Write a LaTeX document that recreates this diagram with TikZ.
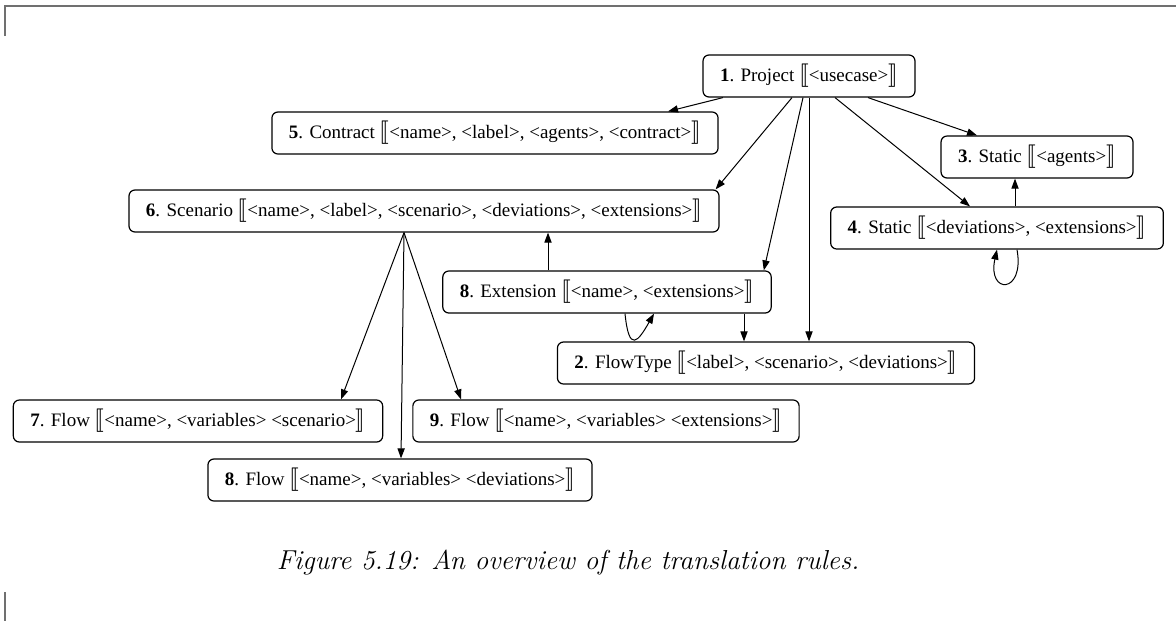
\documentclass[tikz,border=0pt]{standalone}
\usepackage{fontspec}
\newfontfamily\dotfont{Liberation Serif}
\usepackage{graphicx}
\usepackage{stmaryrd}
\usepackage{xcolor}
\definecolor{pagegray}{HTML}{707070}
\usepackage{tikz}
\usetikzlibrary{arrows.meta,calc}

\newcommand{\sembr}[1]{\scalebox{1.3}{$\llbracket$}#1\scalebox{1.3}{$\rrbracket$}}

\begin{document}
\begin{tikzpicture}[
  x=0.5pt, y=-0.5pt, %pixel grid
  rulebox/.style={draw, rounded corners=3pt, line width=0.6pt,
    inner xsep=8.5pt, inner ysep=0pt, minimum height=21pt,
    font=\dotfont\fontsize{9.5}{11}\selectfont},
  link/.style={-{Triangle[length=5pt,width=3.6pt]}, line width=0.5pt},
  pageedge/.style={pagegray, line width=0.8pt}
  ]
  \useasboundingbox (0,0) rectangle (1176,621);

  % page edges
  \draw[pageedge] (5,36) -- (5,6) -- (1176,6);
  \draw[pageedge] (5,592) -- (5,621);

  % rules
  \node[rulebox] (n1) at (809,76) {\textbf{1}. Project \sembr{<usecase>}};
  \node[rulebox] (n5) at (495,133) {\textbf{5}. Contract \sembr{<name>, <label>, <agents>, <contract>}};
  \node[rulebox] (n3) at (1037,157) {\textbf{3}. Static \sembr{<agents>}};
  \node[rulebox] (n4) at (997,228) {\textbf{4}. Static \sembr{<deviations>, <extensions>}};
  \node[rulebox] (n6) at (424,211) {\textbf{6}. Scenario \sembr{<name>, <label>, <scenario>, <deviations>, <extensions>}};
  \node[rulebox] (n8e) at (607,292) {\textbf{8}. Extension \sembr{<name>, <extensions>}};
  \node[rulebox] (n2) at (766,363) {\textbf{2}. FlowType \sembr{<label>, <scenario>, <deviations>}};
  \node[rulebox] (n7) at (198,421) {\textbf{7}. Flow \sembr{<name>, <variables> <scenario>}};
  \node[rulebox] (n9) at (606,421) {\textbf{9}. Flow \sembr{<name>, <variables> <extensions>}};
  \node[rulebox] (n8f) at (400,480) {\textbf{8}. Flow \sembr{<name>, <variables> <deviations>}};

  \node (caption) at (568,563) {\itshape\fontsize{13.7}{16}\selectfont Figure 5.19: An overview of the translation rules.};

  % from the project rule
  \draw[link] ($(n1.south)+(-86,0)$) -- ($(n5.north)+(173,0)$);
  \draw[link] ($(n1.south)+(-17,0)$) -- ($(n6.north east)+(-4,0)$);
  \draw[link] ($(n1.south)+(-6,0)$) -- ($(n8e.north east)+(-8,0)$);
  \draw[link] (n1.south) -- (n1.south |- n2.north);
  \draw[link] ($(n1.south)+(26,0)$) -- ($(n4.north)+(-27,0)$);
  \draw[link] ($(n1.south)+(59,0)$) -- ($(n3.north)+(-60,0)$);

  % statics
  \coordinate (s4) at ($(n4.north)+(18,0)$);
  \draw[link] (s4) -- (s4 |- n3.south);
  \draw[link] ($(n4.south)+(20,0)$) .. controls +(8,45) and +(-10,45) .. (n4.south);

  % extension
  \coordinate (s8) at ($(n8e.north)+(-59,0)$);
  \draw[link] (s8) -- (s8 |- n6.south);
  \coordinate (t8) at ($(n8e.south)+(137,0)$);
  \draw[link] (t8) -- (t8 |- n2.north);
  \draw[link] ($(n8e.south)+(18,0)$) .. controls +(4,40) and +(-16,28) .. ($(n8e.south)+(47,0)$);

  % flows
  \draw[link] ($(n6.south)+(-20,0)$) -- ($(n7.north)+(143,0)$);
  \draw[link] ($(n6.south)+(-20,0)$) -- ($(n8f.north)+(1,0)$);
  \draw[link] ($(n6.south)+(-20,0)$) -- ($(n9.north)+(-145,0)$);
\end{tikzpicture}
\end{document}
